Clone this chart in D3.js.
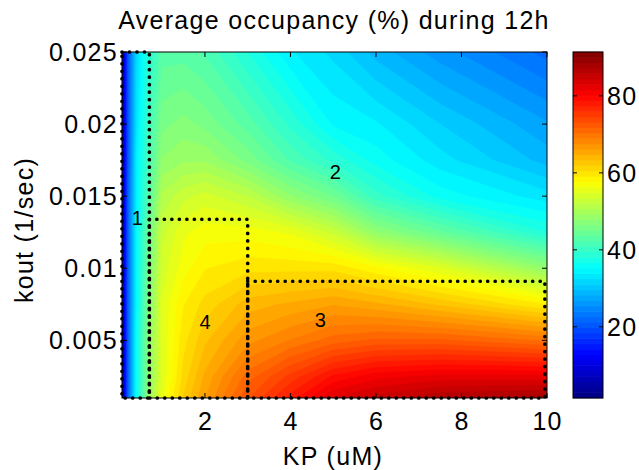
<!DOCTYPE html>
<html>
<head>
<meta charset="utf-8">
<script src="https://cdn.jsdelivr.net/npm/d3@7"></script>
<style>
  body { margin: 0; background: #fff; }
  text { font-family: "Liberation Sans", Arial, sans-serif; fill: #000; }
</style>
</head>
<body>
<svg id="chart" width="639" height="470"></svg>
<script>
// KP (uM) sample columns and kout (1/sec) sample rows
const kpValues = [0.06, 0.2, 0.4, 0.7, 1, 1.5, 2, 3, 4, 5, 6, 7.5, 10];
const koutValues = [0.001, 0.0025, 0.005, 0.0075, 0.01, 0.0125, 0.015, 0.0175, 0.02, 0.025];
// average occupancy (%), one row per kout value (ascending)
const occupancy = [
  [4, 21, 36, 49, 56, 62, 66, 73, 78, 83, 85, 87, 88],
  [4, 21, 36, 48, 55, 61, 65, 71, 75, 79, 81, 82, 82],
  [4, 21, 36, 48, 55, 60, 63, 67, 69, 71, 72, 72, 70],
  [4, 21, 35, 47, 55, 59, 61, 64, 65, 66, 65, 63, 59],
  [4, 21, 35, 46, 54, 57, 59, 60, 60, 60, 58, 55, 48],
  [4, 21, 35, 45, 53, 56, 57, 57, 56, 53, 48, 44, 38],
  [4, 21, 34, 43, 51, 53, 54, 52, 48, 45, 40, 36, 33],
  [4, 20, 34, 42, 48, 49, 49, 46, 42, 39, 36, 33, 29],
  [4, 20, 33, 41, 46, 47, 46, 43, 39, 35, 34, 31, 27],
  [4, 20, 32, 39, 43, 43, 42, 38, 34, 32, 29, 26, 22]
];
const xTicks = [2, 4, 6, 8, 10];
const yTicks = [0.005, 0.01, 0.015, 0.02, 0.025];
const colorTicks = [20, 40, 60, 80];
const regions = [
  { label: '1', kp: [0.06, 0.7], kout: [0.001, 0.025], at: [0.42, 0.0135] },
  { label: '4', kp: [0.7, 3], kout: [0.001, 0.0134], at: [2.0, 0.0063] },
  { label: '3', kp: [3, 9.95], kout: [0.001, 0.0091], at: [4.7, 0.0064] },
  { label: '2', kp: null, kout: null, at: [5.05, 0.0167] }
];

const plot = { left: 122, right: 547, top: 52, bottom: 398 };
const cbar = { left: 573, right: 603 };
const cmin = 1.5, cmax = 91.4;

const svg = d3.select('#chart');
const x = d3.scaleLinear().domain([0.06, 10]).range([plot.left, plot.right]);
const y = d3.scaleLinear().domain([0.001, 0.025]).range([plot.bottom, plot.top]);
const cy = d3.scaleLinear().domain([cmin, cmax]).range([plot.bottom, plot.top]);

// matlab jet
function jet(t) {
  const c = v => Math.max(0, Math.min(1, v));
  return d3.rgb(255 * c(1.5 - Math.abs(4 * t - 3)),
    255 * c(1.5 - Math.abs(4 * t - 2)),
    255 * c(1.5 - Math.abs(4 * t - 1))).toString();
}
const nLevels = 64;
const step = (cmax - cmin) / nLevels;
const thresholds = d3.range(nLevels).map(i => cmin + i * step);
const levelColor = v => jet((v + step / 2 - cmin) / (cmax - cmin));

// filled contours on the sample grid, grid index -> data value -> pixel
const n = kpValues.length, m = koutValues.length;
const kpAt = d3.scaleLinear().domain(d3.range(n)).range(kpValues).clamp(true);
const koutAt = d3.scaleLinear().domain(d3.range(m)).range(koutValues).clamp(true);
const toPixels = d3.geoTransform({
  point(px, py) { this.stream.point(x(kpAt(px - 0.5)), y(koutAt(py - 0.5))); }
});
const path = d3.geoPath(toPixels);
const bands = d3.contours().size([n, m]).thresholds(thresholds)(occupancy.flat());

svg.append('clipPath').attr('id', 'plot-clip')
  .append('rect')
  .attr('x', plot.left).attr('y', plot.top)
  .attr('width', plot.right - plot.left).attr('height', plot.bottom - plot.top);

svg.append('g').attr('clip-path', 'url(#plot-clip)')
  .selectAll('path').data(bands).join('path')
  .attr('d', path)
  .attr('fill', d => levelColor(d.value))
  .attr('stroke', d => levelColor(d.value))
  .attr('stroke-width', 0.4);

// axes box + inner ticks
const axes = svg.append('g').attr('stroke', '#000').attr('stroke-width', 1);
axes.append('rect')
  .attr('x', plot.left).attr('y', plot.top)
  .attr('width', plot.right - plot.left).attr('height', plot.bottom - plot.top)
  .attr('fill', 'none');
xTicks.forEach(t => {
  axes.append('line').attr('x1', x(t)).attr('x2', x(t)).attr('y1', plot.bottom).attr('y2', plot.bottom - 5);
  axes.append('line').attr('x1', x(t)).attr('x2', x(t)).attr('y1', plot.top).attr('y2', plot.top + 5);
});
yTicks.forEach(t => {
  axes.append('line').attr('y1', y(t)).attr('y2', y(t)).attr('x1', plot.left).attr('x2', plot.left + 5);
  axes.append('line').attr('y1', y(t)).attr('y2', y(t)).attr('x1', plot.right).attr('x2', plot.right - 5);
});

// dotted region outlines
svg.append('g').selectAll('rect')
  .data(regions.filter(r => r.kp))
  .join('rect')
  .attr('x', r => x(r.kp[0])).attr('y', r => y(r.kout[1]))
  .attr('width', r => x(r.kp[1]) - x(r.kp[0]))
  .attr('height', r => y(r.kout[0]) - y(r.kout[1]))
  .attr('fill', 'none')
  .attr('stroke', '#000')
  .attr('stroke-width', 3.7)
  .attr('stroke-linecap', 'round')
  .attr('stroke-dasharray', '0 7.5');

svg.append('g').selectAll('text')
  .data(regions).join('text')
  .attr('x', r => x(r.at[0])).attr('y', r => y(r.at[1]) + 7)
  .attr('text-anchor', 'middle')
  .style('font-size', '20px')
  .text(r => r.label);

// tick labels
const big = { 'font-size': '25px', 'letter-spacing': '1.3px' };
function styled(sel) {
  Object.entries(big).forEach(([k, v]) => sel.style(k, v));
  return sel;
}
styled(svg.append('g').selectAll('text').data(xTicks).join('text'))
  .attr('x', t => x(t) + 0.6).attr('y', 430)
  .attr('text-anchor', 'middle')
  .text(t => t);
styled(svg.append('g').selectAll('text').data(yTicks).join('text'))
  .attr('x', plot.left - 4).attr('y', t => y(t) + 9)
  .attr('text-anchor', 'end')
  .text(t => t);

styled(svg.append('text'))
  .attr('x', 334).attr('y', 29)
  .attr('text-anchor', 'middle')
  .text('Average occupancy (%) during 12h');
styled(svg.append('text'))
  .attr('x', 333).attr('y', 465)
  .attr('text-anchor', 'middle')
  .text('KP (uM)');
styled(svg.append('text'))
  .attr('transform', 'translate(33,230) rotate(-90)')
  .attr('text-anchor', 'middle')
  .text('kout (1/sec)');

// colorbar
svg.append('g').selectAll('rect')
  .data(thresholds).join('rect')
  .attr('x', cbar.left).attr('width', cbar.right - cbar.left)
  .attr('y', t => cy(t + step) - 0.3)
  .attr('height', t => cy(t) - cy(t + step) + 0.6)
  .attr('fill', t => levelColor(t));
const cb = svg.append('g').attr('stroke', '#000').attr('stroke-width', 1);
cb.append('rect')
  .attr('x', cbar.left).attr('y', plot.top)
  .attr('width', cbar.right - cbar.left).attr('height', plot.bottom - plot.top)
  .attr('fill', 'none');
colorTicks.forEach(t => {
  cb.append('line').attr('x1', cbar.left).attr('x2', cbar.left + 4).attr('y1', cy(t)).attr('y2', cy(t));
  cb.append('line').attr('x1', cbar.right).attr('x2', cbar.right - 4).attr('y1', cy(t)).attr('y2', cy(t));
});
styled(svg.append('g').selectAll('text').data(colorTicks).join('text'))
  .attr('x', cbar.right + 4).attr('y', t => cy(t) + 9)
  .text(t => t);
</script>
</body>
</html>
